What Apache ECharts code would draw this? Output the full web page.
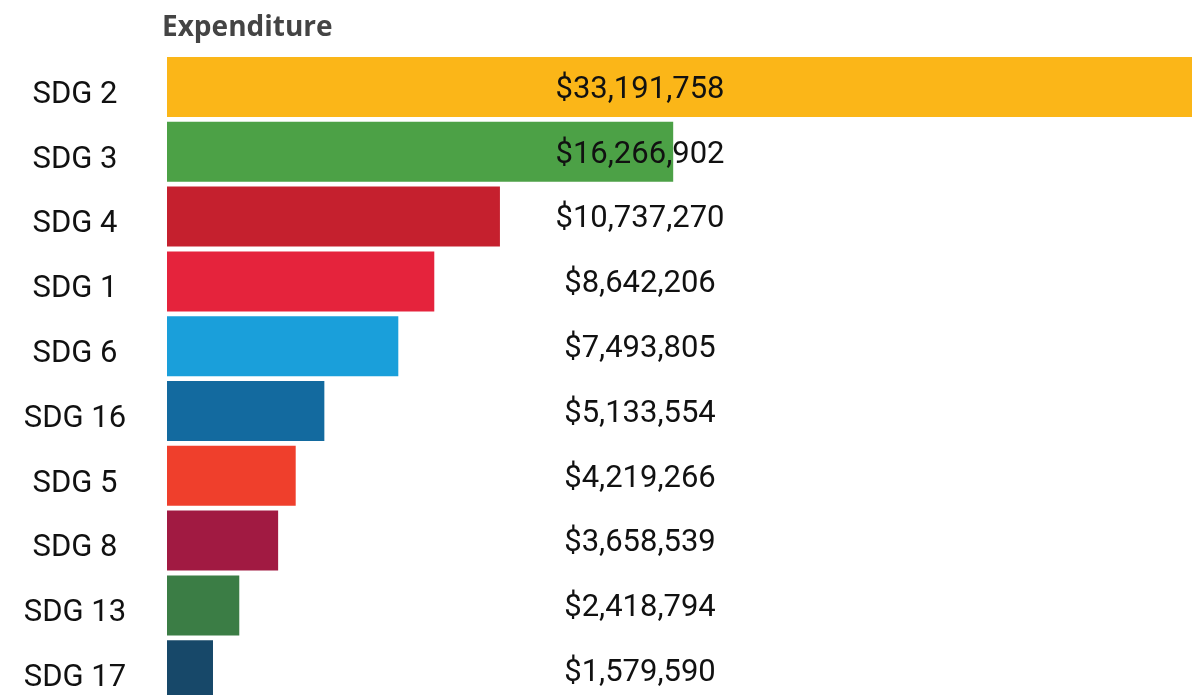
<!DOCTYPE html>
<html>
<head>
<meta charset="utf-8">
<script src="https://cdn.jsdelivr.net/npm/echarts@6/dist/echarts.min.js"></script>
<style>
  html, body { margin: 0; padding: 0; background: #ffffff; }
  #chart { width: 1192px; height: 695px; }
</style>
</head>
<body>
<div id="chart"></div>
<script>
// SDG expenditure, largest first
const categories = ['SDG 2', 'SDG 3', 'SDG 4', 'SDG 1', 'SDG 6', 'SDG 16', 'SDG 5', 'SDG 8', 'SDG 13', 'SDG 17'];
const expenditure = [33191758, 16266902, 10737270, 8642206, 7493805, 5133554, 4219266, 3658539, 2418794, 1579590];
const barColors = ['#FBB618', '#4CA146', '#C5202E', '#E5233C', '#1A9FDA', '#136A9F', '#EF3F2C', '#A11A42', '#3B7D45', '#174869'];

const money = v => '$' + v.toLocaleString('en-US');

const chart = echarts.init(document.getElementById('chart'), null, { renderer: 'canvas' });

chart.setOption({
  animation: false,
  title: {
    text: 'Expenditure',
    left: 157,
    top: 9,
    textStyle: { fontFamily: 'Open Sans', fontWeight: 'bold', fontSize: 28, color: '#444444' }
  },
  // plot area runs a little past the right and bottom edges of the canvas
  grid: {
    left: 163.5, top: 54.6, width: 1040, height: 648,
    containLabel: false,
    outerBoundsMode: 'none'
  },
  xAxis: {
    type: 'value',
    min: 0,
    max: 33191758,
    show: false
  },
  yAxis: {
    type: 'category',
    inverse: true,
    data: categories,
    z: 5,
    // white spine leaves a thin gap before the bars
    axisLine: { show: true, lineStyle: { color: '#ffffff', width: 6 } },
    axisTick: { show: false },
    splitLine: { show: false },
    axisLabel: {
      margin: 88.5,
      align: 'center',
      verticalAlign: 'top',
      lineHeight: 16,
      fontFamily: 'Roboto',
      fontSize: 31,
      color: '#111111'
    }
  },
  series: [{
    type: 'bar',
    data: expenditure.map((v, i) => ({ value: v, itemStyle: { color: barColors[i] } })),
    barWidth: 60,
    label: {
      show: true,
      position: [476.5, '50%'],
      offset: [0, 3],
      align: 'center',
      verticalAlign: 'middle',
      fontFamily: 'Roboto',
      fontSize: 31,
      color: '#111111',
      formatter: p => money(p.value)
    }
  }]
});
</script>
</body>
</html>
